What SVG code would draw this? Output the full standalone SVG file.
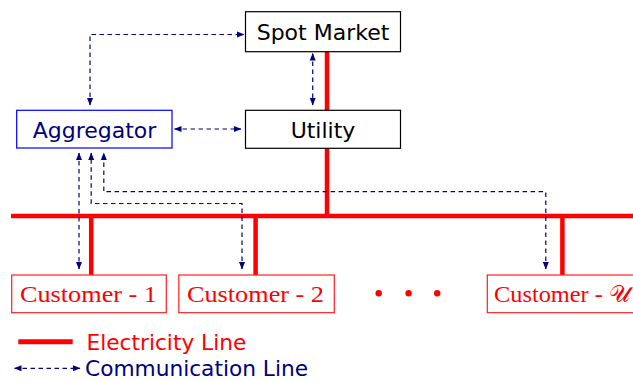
<svg xmlns="http://www.w3.org/2000/svg" width="633" height="381" viewBox="0 0 633 381">
  <style>
    .box { fill: #ffffff; stroke: #000000; stroke-width: 1.2; }
    .agg { fill: #ffffff; stroke: #0000ff; stroke-width: 1.2; }
    .cust { fill: #ffffff; stroke: #ff2020; stroke-width: 1.2; }
    .label { font-family: "DejaVu Sans", sans-serif; font-size: 22px; text-anchor: middle; }
    .clabel { font-family: "Liberation Serif", "DejaVu Serif", serif; font-size: 22.5px; fill: #ff0000; }
    .power { stroke: #ff0000; stroke-width: 4.5; fill: none; }
    .comm { stroke: #000080; stroke-width: 1.2; stroke-dasharray: 4.5 3.5; fill: none;
            marker-end: url(#tip); }
    .both { marker-start: url(#tip); }
  </style>
  <defs>
    <marker id="tip" markerUnits="userSpaceOnUse" markerWidth="8" markerHeight="8"
            viewBox="0 0 8 8" refX="7" refY="4" orient="auto-start-reverse">
      <path d="M0,1 L7.5,4 L0,7 Z" fill="#000080"/>
    </marker>
  </defs>

  <!-- electricity network -->
  <g id="power-lines">
    <line class="power" x1="327" y1="51.7" x2="327" y2="110"/>
    <line class="power" x1="327" y1="148.3" x2="327" y2="216"/>
    <line class="power" x1="11" y1="216" x2="633" y2="216"/>
    <line class="power" x1="91.2" y1="216" x2="91.2" y2="275"/>
    <line class="power" x1="255.6" y1="216" x2="255.6" y2="275"/>
    <line class="power" x1="562.4" y1="216" x2="562.4" y2="275"/>
  </g>

  <!-- communication links -->
  <g id="comm-lines">
    <path class="comm both" d="M90,105 L90,34.5 L244,34.5"/>
    <line class="comm both" x1="312.7" y1="53.5" x2="312.7" y2="105"/>
    <line class="comm both" x1="174.5" y1="129" x2="241" y2="129"/>
    <line class="comm both" x1="79" y1="153" x2="79" y2="269"/>
    <path class="comm both" d="M242,269 L242,203.5 L91.2,203.5 L91.2,153"/>
    <path class="comm both" d="M545.8,269 L545.8,191.7 L103.8,191.7 L103.8,153"/>
  </g>

  <g id="spot-market">
    <rect class="box" x="245.5" y="11.7" width="155" height="40"/>
    <text class="label" x="323" y="39.5">Spot Market</text>
  </g>

  <g id="utility">
    <rect class="box" x="245.5" y="110.3" width="155" height="38"/>
    <text class="label" x="323" y="138">Utility</text>
  </g>

  <g id="aggregator">
    <rect class="agg" x="16.7" y="110.3" width="155.3" height="37.7"/>
    <text class="label" x="94.5" y="137.5" fill="#000080">Aggregator</text>
  </g>

  <g id="customer-1">
    <rect class="cust" x="11.7" y="275" width="154.6" height="37.7"/>
    <text class="clabel" x="20" y="302" textLength="137" lengthAdjust="spacingAndGlyphs">Customer - 1</text>
  </g>

  <g id="customer-2">
    <rect class="cust" x="178.8" y="275" width="155.5" height="37.7"/>
    <text class="clabel" x="187" y="302" textLength="137" lengthAdjust="spacingAndGlyphs">Customer - 2</text>
  </g>

  <g id="ellipsis" fill="#ff0000">
    <circle cx="378.7" cy="293.3" r="3.2"/>
    <circle cx="408.6" cy="293.3" r="3.2"/>
    <circle cx="437.2" cy="293.3" r="3.2"/>
  </g>

  <g id="customer-u">
    <rect class="cust" x="487.3" y="275" width="160" height="37.7"/>
    <text class="clabel" x="494" y="302"><tspan textLength="115" lengthAdjust="spacingAndGlyphs">Customer - </tspan><tspan font-size="24">𝒰</tspan></text>
  </g>

  <!-- legend -->
  <g id="legend">
    <line x1="18.3" y1="341.7" x2="72.7" y2="341.7" stroke="#ff0000" stroke-width="5"/>
    <text x="86.5" y="349.5" font-family="DejaVu Sans, sans-serif" font-size="21.7" fill="#ff0000">Electricity Line</text>
    <line class="comm both" x1="14.5" y1="368.3" x2="80" y2="368.3"/>
    <text x="85" y="375.5" font-family="DejaVu Sans, sans-serif" font-size="21.7" fill="#000080">Communication Line</text>
  </g>
</svg>
